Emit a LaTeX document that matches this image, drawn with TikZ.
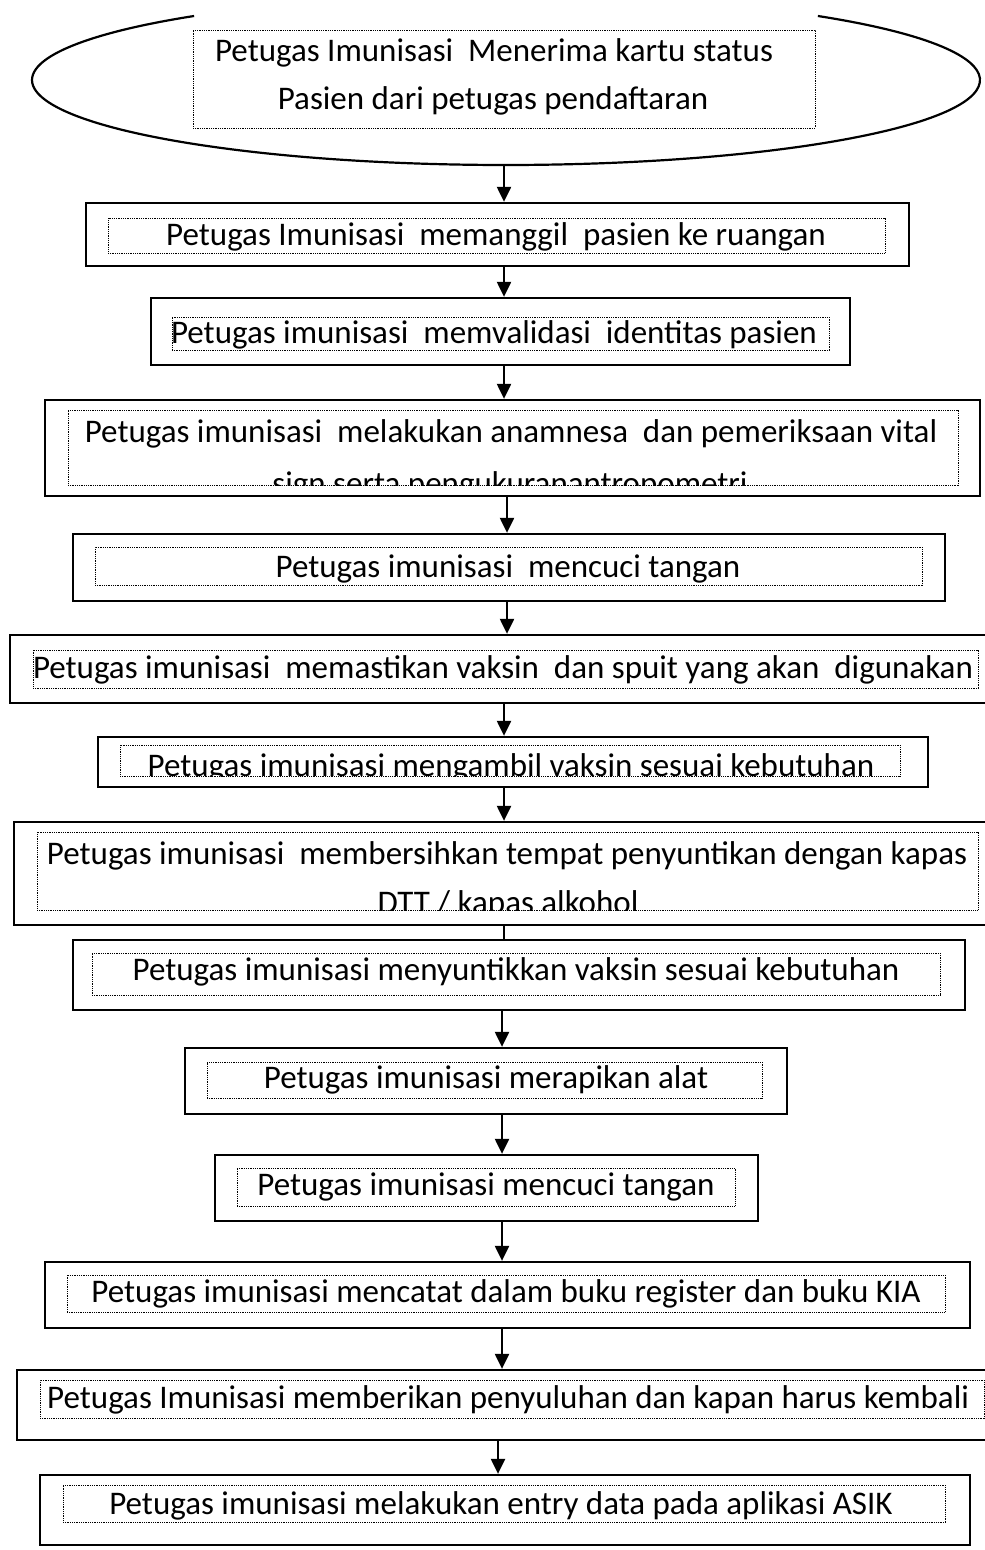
\documentclass[tikz,border=0pt]{standalone}
\usepackage{fontspec}
\setmainfont{Carlito}
\usetikzlibrary{shapes.geometric,arrows.meta,fit}
\newcommand\cliptxt[5]{%
  \begin{scope}
    \clip (#1.south west) rectangle (#1.north east);
    \node[txt] (#2) at (#3,#4) {#5};
  \end{scope}}
\begin{document}
\begin{tikzpicture}[x=1pt,y=-1pt,
  outerbox/.style={draw, line width=2.3pt, inner sep=0pt},
  dotbox/.style={draw, line width=0.9pt, dash pattern=on 0.9pt off 0.9pt, inner sep=0pt},
  txt/.style={font=\fontsize{33}{40}\selectfont, inner sep=0pt, anchor=base},
  arr/.style={line width=2.2pt, -{Triangle[length=15pt,width=14pt]}},
  link/.style={line width=2.2pt}]
\useasboundingbox (0,0) rectangle (985,1550);
\clip (0,0) rectangle (985,1550);

% start ellipse (top part missing)
\node[ellipse, minimum width=948pt, minimum height=170pt, inner sep=0pt] (e) at (506,80) {};
\draw[line width=2.2pt] (e.center) ++(-48.85:474 and 85)
  arc[start angle=-48.85, end angle=228.85, x radius=474, y radius=85];
\node[dotbox, fit={(193,30) (815,128)}] (ie) {};
\cliptxt{ie}{te1}{494}{61}{Petugas Imunisasi\ \ Menerima kartu status}
\cliptxt{ie}{te2}{493}{109}{Pasien dari petugas pendaftaran}

% outer boxes
\node[outerbox, fit={(86,203) (909,266)}] (b2) {};
\node[outerbox, fit={(151,298) (850,365)}] (b3) {};
\node[outerbox, fit={(45,400) (980,496)}] (b4) {};
\node[outerbox, fit={(73,534) (945,601)}] (b5) {};
\node[outerbox, fit={(10,635) (1000,703)}] (b6) {};
\node[outerbox, fit={(98,737) (928,787)}] (b7) {};
\node[outerbox, fit={(14,822) (1000,925)}] (b8) {};
\node[outerbox, fit={(73,940) (965,1010)}] (b9) {};
\node[outerbox, fit={(185,1048) (787,1114)}] (b10) {};
\node[outerbox, fit={(215,1155) (758,1221)}] (b11) {};
\node[outerbox, fit={(45,1262) (970,1328)}] (b12) {};
\node[outerbox, fit={(17,1370) (1000,1440)}] (b13) {};
\node[outerbox, fit={(40,1475) (970,1545)}] (b14) {};

% inner dotted boxes
\node[dotbox, fit={(108,218) (885,253)}] (i2) {};
\node[dotbox, fit={(172,317) (829,350)}] (i3) {};
\node[dotbox, fit={(68,410) (958,485)}] (i4) {};
\node[dotbox, fit={(95,547) (922,585)}] (i5) {};
\node[dotbox, fit={(33,650) (978,688)}] (i6) {};
\node[dotbox, fit={(120,745) (900,776)}] (i7) {};
\node[dotbox, fit={(37,832) (978,910)}] (i8) {};
\node[dotbox, fit={(92,953) (940,995)}] (i9) {};
\node[dotbox, fit={(207,1062) (762,1098)}] (i10) {};
\node[dotbox, fit={(237,1168) (735,1206)}] (i11) {};
\node[dotbox, fit={(67,1275) (945,1312)}] (i12) {};
\node[dotbox, fit={(40,1380) (984,1418)}] (i13) {};
\node[dotbox, fit={(63,1485) (945,1522)}] (i14) {};

% texts
\cliptxt{i2}{t2}{496}{245}{Petugas Imunisasi\ \ memanggil\ \ pasien ke ruangan}
\cliptxt{i3}{t3}{494}{343}{Petugas imunisasi\ \ memvalidasi\ \ identitas pasien}
\cliptxt{i4}{t4a}{511}{442}{Petugas imunisasi\ \ melakukan anamnesa\ \ dan pemeriksaan vital}
\cliptxt{i4}{t4b}{510}{494}{sign serta pengukuranantropometri}
\cliptxt{i5}{t5}{508}{577}{Petugas imunisasi\ \ mencuci tangan}
\cliptxt{i6}{t6}{503}{678}{Petugas imunisasi\ \ memastikan vaksin\ \ dan spuit yang akan\ \ digunakan}
\cliptxt{i7}{t7}{511}{776}{Petugas imunisasi mengambil vaksin sesuai kebutuhan}
\cliptxt{i8}{t8a}{507}{864}{Petugas imunisasi\ \ membersihkan tempat penyuntikan dengan kapas}
\cliptxt{i8}{t8b}{508}{913}{DTT / kapas alkohol}
\cliptxt{i9}{t9}{516}{980}{Petugas imunisasi menyuntikkan vaksin sesuai kebutuhan}
\cliptxt{i10}{t10}{486}{1088}{Petugas imunisasi merapikan alat}
\cliptxt{i11}{t11}{486}{1195}{Petugas imunisasi mencuci tangan}
\cliptxt{i12}{t12}{506}{1302}{Petugas imunisasi mencatat dalam buku register dan buku KIA}
\begin{scope}
  \clip (i13.south west) rectangle (i13.north east);
  \node[txt, anchor=base west] (t13) at (47,1408) {Petugas Imunisasi memberikan penyuluhan dan kapan harus kembali};
\end{scope}
\cliptxt{i14}{t14}{501}{1514}{Petugas imunisasi melakukan entry data pada aplikasi ASIK}

% connector columns
\coordinate (c1) at (504,0);
\coordinate (c2) at (507,0);
\coordinate (c3) at (502,0);
\coordinate (c4) at (498,0);

\draw[arr] (e.south -| c1) -- (b2.north -| c1);
\draw[arr] (b2.south -| c1) -- (b3.north -| c1);
\draw[arr] (b3.south -| c1) -- (b4.north -| c1);
\draw[arr] (b4.south -| c2) -- (b5.north -| c2);
\draw[arr] (b5.south -| c2) -- (b6.north -| c2);
\draw[arr] (b6.south -| c1) -- (b7.north -| c1);
\draw[arr] (b7.south -| c1) -- (b8.north -| c1);
\draw[link] (b8.south -| c1) -- (b9.north -| c1);
\draw[arr] (b9.south -| c3) -- (b10.north -| c3);
\draw[arr] (b10.south -| c3) -- (b11.north -| c3);
\draw[arr] (b11.south -| c3) -- (b12.north -| c3);
\draw[arr] (b12.south -| c3) -- (b13.north -| c3);
\draw[arr] (b13.south -| c4) -- (b14.north -| c4);
\end{tikzpicture}
\end{document}
